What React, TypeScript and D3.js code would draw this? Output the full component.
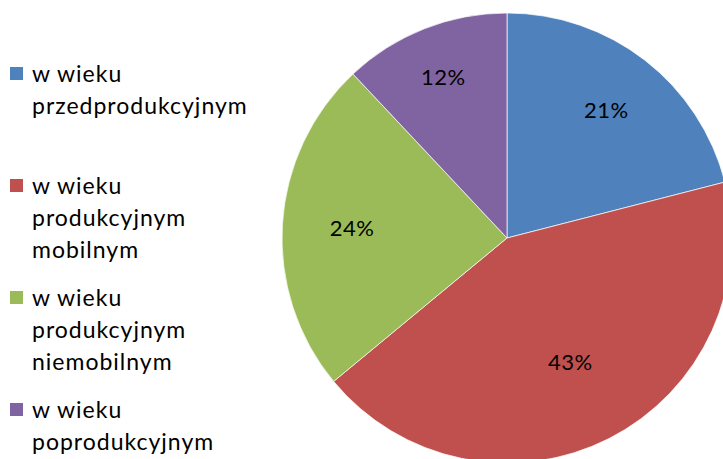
import * as d3 from 'd3';

const categories = [
  'w wieku przedprodukcyjnym',
  'w wieku produkcyjnym mobilnym',
  'w wieku produkcyjnym niemobilnym',
  'w wieku poprodukcyjnym',
];
// legend wraps like the original
const legendLines = [
  ['w wieku', 'przedprodukcyjnym'],
  ['w wieku', 'produkcyjnym', 'mobilnym'],
  ['w wieku', 'produkcyjnym', 'niemobilnym'],
  ['w wieku', 'poprodukcyjnym'],
];
const values = [21, 43, 24, 12];
const colors = ['#4F81BD', '#C0504D', '#9BBB59', '#8064A2'];

const width = 723;
const height = 459;
const font = "Lato, 'Open Sans', sans-serif";
// excel "best fit" puts the labels at slightly different depths
const labelDepth = [0.72, 0.62, 0.69, 0.77];

export default function App() {
  const cx = 507;
  const cy = 238;
  const radius = 225;

  const pie = d3
    .pie<number>()
    .value((d) => d)
    .sort(null);
  const arcs = pie(values);

  const arc = d3.arc<d3.PieArcDatum<number>>().innerRadius(0).outerRadius(radius);

  const total = d3.sum(values);
  const fmt = (v: number) => `${Math.round((v / total) * 100)}%`;

  return (
    <svg
      width={width}
      height={height}
      style={{ position: 'absolute', left: 0, top: 0, background: '#fff' }}
    >
      <g transform={`translate(${cx},${cy})`}>
        {arcs.map((a, i) => (
          <path key={categories[i]} d={arc(a) ?? ''} fill={colors[i]} stroke='#fff' strokeWidth={0.7} />
        ))}
        {arcs.map((a, i) => {
          const r = radius * labelDepth[i];
          const [x, y] = d3
            .arc<d3.PieArcDatum<number>>()
            .innerRadius(r)
            .outerRadius(r)
            .centroid(a);
          return (
            <text
              key={'l' + i}
              x={x}
              y={y}
              dy='0.35em'
              textAnchor='middle'
              fontFamily={font}
              fontSize={22}
              letterSpacing={0.5}
              fill='#000'
            >
              {fmt(a.value)}
            </text>
          );
        })}
      </g>
      <g>
        {legendLines.map((lines, i) => {
          const top = 74 + i * 112;
          return (
            <g key={'g' + i}>
              <rect x={10} y={top - 7} width={13} height={13} fill={colors[i]} />
              {lines.map((ln, j) => (
                <text
                  key={j}
                  x={32}
                  y={top + j * 32}
                  dy='0.35em'
                  fontFamily={font}
                  fontSize={23}
                  letterSpacing={1}
                  fill='#000'
                >
                  {ln}
                </text>
              ))}
            </g>
          );
        })}
      </g>
    </svg>
  );
}
